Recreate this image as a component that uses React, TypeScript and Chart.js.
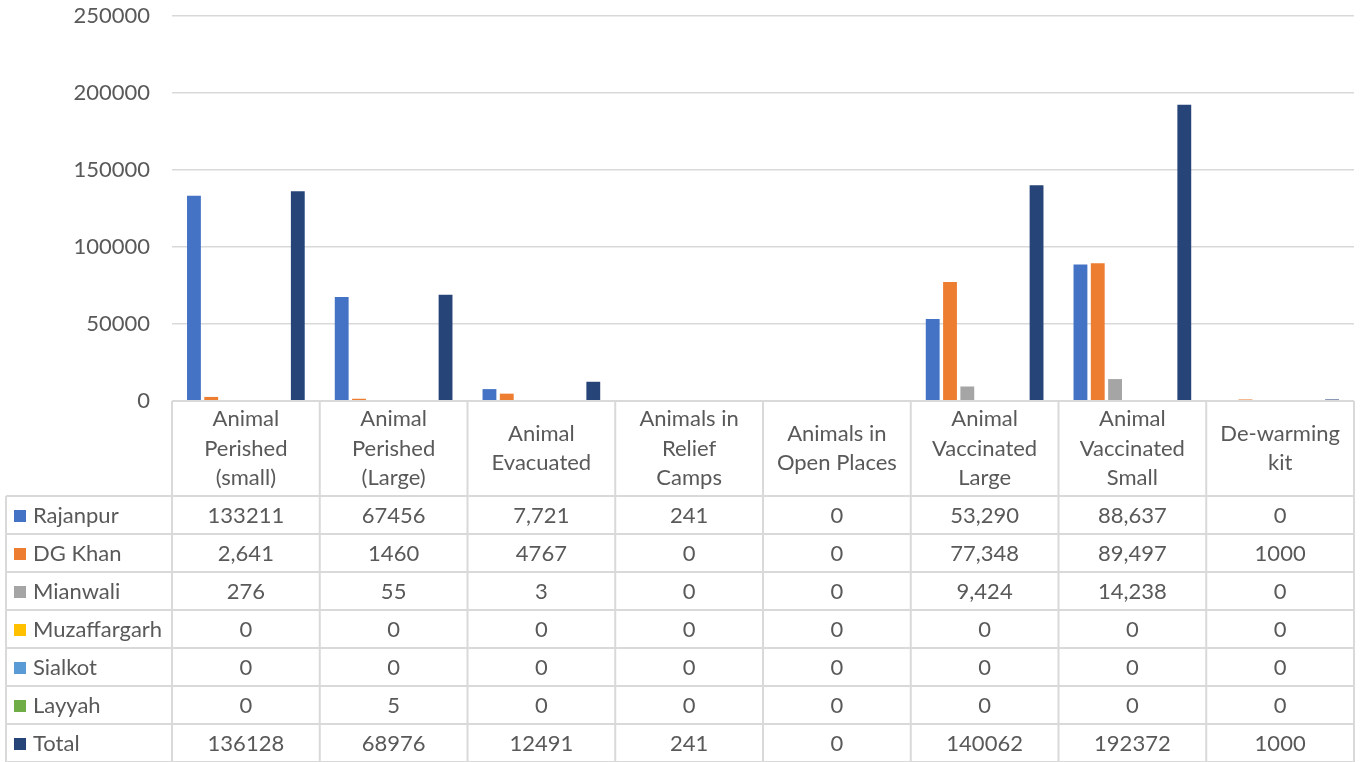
import React, { useEffect, useRef } from "react";
import { Chart, registerables } from "chart.js";

Chart.register(...registerables);

const categories: string[][] = [
  ["Animal", "Perished", "(small)"],
  ["Animal", "Perished", "(Large)"],
  ["Animal", "Evacuated"],
  ["Animals in", "Relief", "Camps"],
  ["Animals in", "Open Places"],
  ["Animal", "Vaccinated", "Large"],
  ["Animal", "Vaccinated", "Small"],
  ["De-warming", "kit"],
];

const seriesNames = ["Rajanpur", "DG Khan", "Mianwali", "Muzaffargarh", "Sialkot", "Layyah", "Total"];
const seriesColors = ["#4472C4", "#ED7D31", "#A5A5A5", "#FFC000", "#5B9BD5", "#70AD47", "#264478"];

const rajanpur = ["133211", "67456", "7,721", "241", "0", "53,290", "88,637", "0"];
const dgKhan = ["2,641", "1460", "4767", "0", "0", "77,348", "89,497", "1000"];
const mianwali = ["276", "55", "3", "0", "0", "9,424", "14,238", "0"];
const muzaffargarh = ["0", "0", "0", "0", "0", "0", "0", "0"];
const sialkot = ["0", "0", "0", "0", "0", "0", "0", "0"];
const layyah = ["0", "5", "0", "0", "0", "0", "0", "0"];
const total = ["136128", "68976", "12491", "241", "0", "140062", "192372", "1000"];

const seriesValues = [rajanpur, dgKhan, mianwali, muzaffargarh, sialkot, layyah, total];

const yTicks = [0, 50000, 100000, 150000, 200000, 250000];

const FONT = "Lato, 'Open Sans', sans-serif";
const FS = 22;
const TEXT = "#595959";
const LINE = "#D9D9D9";

const toNum = (s: string) => Number(s.replace(/,/g, ""));

const tablePlugin = {
  id: "dataTable",
  afterDraw(chart: any) {
    const ctx = chart.ctx;
    const area = chart.chartArea;
    const xs = chart.scales.x;
    const n = categories.length;
    const left = area.left;
    const right = area.right;
    const cw = (right - left) / n;
    const top = area.bottom;
    const headerH = 95;
    const rowH = 38;
    const tableLeft = 6;
    ctx.save();
    ctx.strokeStyle = LINE;
    ctx.lineWidth = 2;
    ctx.beginPath();
    ctx.moveTo(left, top);
    ctx.lineTo(right, top);
    ctx.stroke();
    const bodyTop = top + headerH;
    const nRows = seriesNames.length;
    for (let r = 0; r <= nRows; r++) {
      const y = bodyTop + r * rowH;
      ctx.beginPath();
      ctx.moveTo(tableLeft, y);
      ctx.lineTo(right, y);
      ctx.stroke();
    }
    const bottom = bodyTop + nRows * rowH;
    for (let c = 0; c <= n; c++) {
      const x = left + c * cw;
      ctx.beginPath();
      ctx.moveTo(x, top);
      ctx.lineTo(x, bottom);
      ctx.stroke();
    }
    ctx.beginPath();
    ctx.moveTo(tableLeft, bodyTop);
    ctx.lineTo(tableLeft, bottom);
    ctx.stroke();

    ctx.fillStyle = TEXT;
    ctx.font = `${FS}px ${FONT}`;
    ctx.textAlign = "center";
    ctx.textBaseline = "middle";
    const lh = 29.5;
    for (let c = 0; c < n; c++) {
      const cx = xs.getPixelForValue(c);
      const lines = categories[c];
      const cy = top + headerH / 2;
      lines.forEach((ln, i) => {
        ctx.fillText(ln, cx, cy + (i - (lines.length - 1) / 2) * lh);
      });
    }
    for (let r = 0; r < nRows; r++) {
      const cy = bodyTop + r * rowH + rowH / 2 + 1;
      ctx.fillStyle = seriesColors[r];
      ctx.fillRect(14, cy - 6, 12, 12);
      ctx.fillStyle = TEXT;
      ctx.textAlign = "left";
      ctx.fillText(seriesNames[r], 33, cy);
      ctx.textAlign = "center";
      for (let c = 0; c < n; c++) {
        ctx.fillText(seriesValues[r][c], xs.getPixelForValue(c), cy);
      }
    }
    ctx.restore();
  },
};

export default function App() {
  const ref = useRef<HTMLCanvasElement>(null);
  useEffect(() => {
    document.body.style.margin = "0";
    const chart = new Chart(ref.current as HTMLCanvasElement, {
      type: "bar",
      data: {
        labels: categories.map((c) => c.join(" ")),
        datasets: seriesNames.map((name, i) => ({
          label: name,
          data: seriesValues[i].map(toNum),
          backgroundColor: seriesColors[i],
          categoryPercentage: 0.82,
          barPercentage: 0.8,
        })),
      },
      options: {
        animation: false,
        responsive: false,
        layout: { padding: { left: 0, right: 6, top: 16, bottom: 0 } },
        plugins: { legend: { display: false }, tooltip: { enabled: false } },
        scales: {
          x: {
            grid: { display: false },
            border: { display: false },
            ticks: { display: false },
            afterFit: (s: any) => {
              s.height = 361;
              s.paddingLeft = 0;
              s.paddingRight = 0;
            },
          },
          y: {
            min: 0,
            max: 250000,
            afterBuildTicks: (s: any) => {
              s.ticks = yTicks.map((v) => ({ value: v }));
            },
            grid: { color: LINE, lineWidth: 1.5, drawTicks: false },
            border: { display: false },
            ticks: {
              color: TEXT,
              font: { family: FONT, size: FS },
              padding: 22,
              callback: (v: any) => String(v),
            },
            afterFit: (s: any) => {
              s.width = 172;
              s.paddingTop = 0;
              s.paddingBottom = 0;
            },
          },
        },
      },
      plugins: [tablePlugin],
    });
    return () => chart.destroy();
  }, []);
  return (
    <div style={{ position: "absolute", left: 0, top: 0, width: 1360, height: 762 }}>
      <canvas ref={ref} width={1360} height={762} style={{ display: "block" }} />
    </div>
  );
}
